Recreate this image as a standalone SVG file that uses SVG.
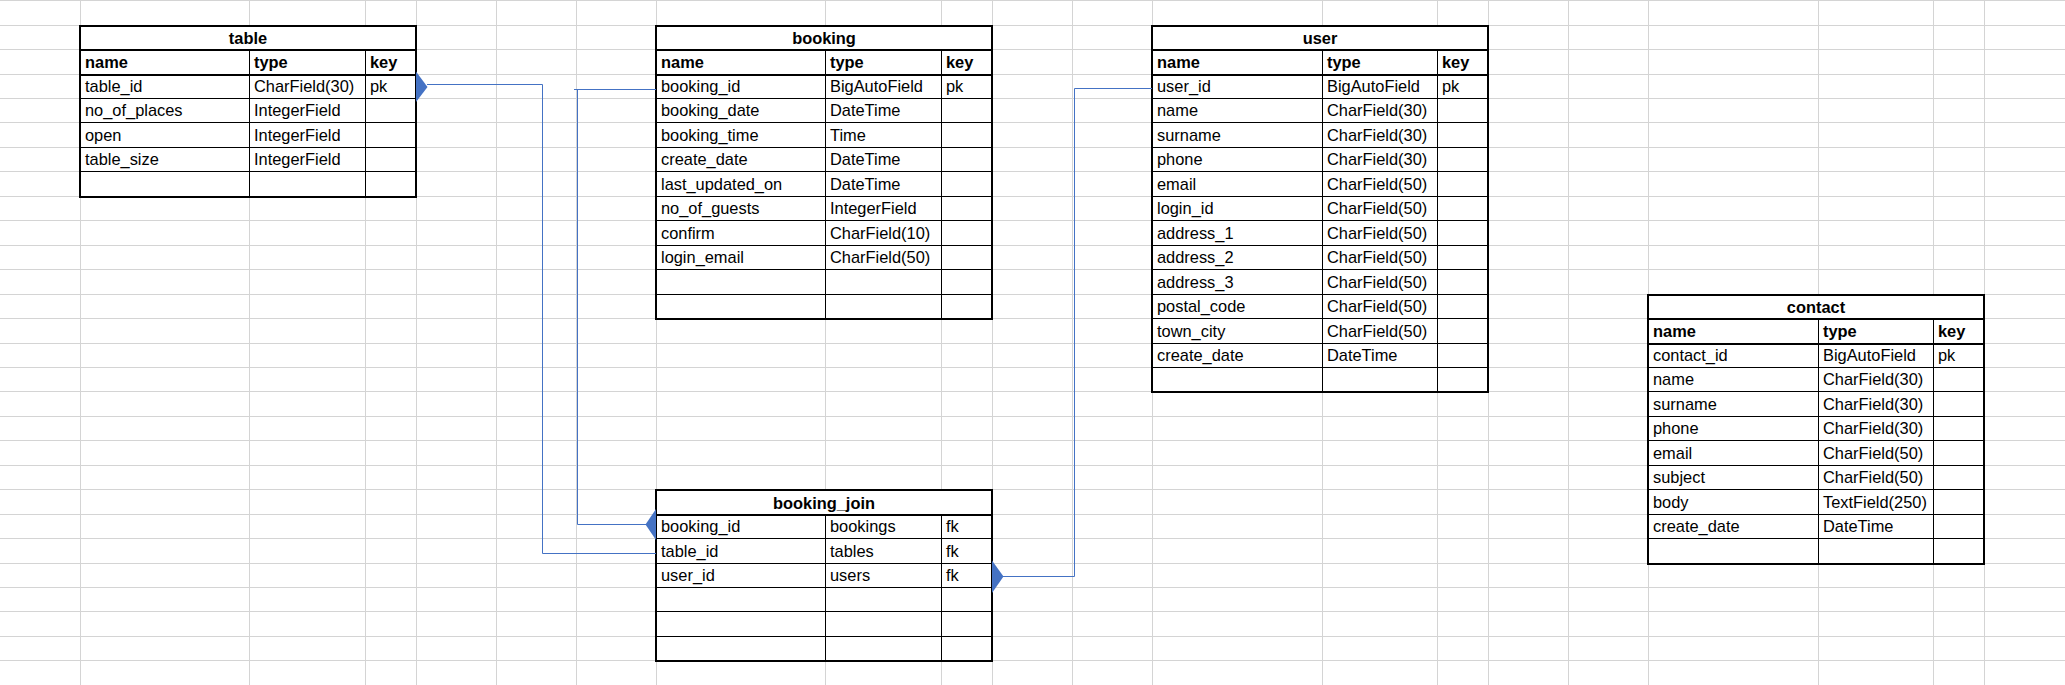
<svg xmlns="http://www.w3.org/2000/svg" width="2065" height="685" viewBox="0 0 2065 685">
<style>
.grid{stroke:#d4d4d4;stroke-width:1;fill:none}
.box{fill:#ffffff;stroke:#000000;stroke-width:2}
.thick{stroke:#000000;stroke-width:2;fill:none}
.thin{stroke:#000000;stroke-width:1;fill:none}
text{font-family:"Liberation Sans",Arial,sans-serif;font-size:16.4px;fill:#000000}
.t{font-weight:bold;text-anchor:middle}
.h{font-weight:bold}
.conn{stroke:#4472c4;stroke-width:1;fill:none}
.tri{fill:#4472c4;stroke:none}
</style>
<rect x="0" y="0" width="2065" height="685" fill="#ffffff"/>
<g id="grid">
<path class="grid" d="M80.5 0V685M249.5 0V685M365.5 0V685M416.5 0V685M496.5 0V685M576.5 0V685M656.5 0V685M825.5 0V685M941.5 0V685M992.5 0V685M1072.5 0V685M1152.5 0V685M1322.5 0V685M1437.5 0V685M1488.5 0V685M1568.5 0V685M1648.5 0V685M1818.5 0V685M1933.5 0V685M1984.5 0V685"/>
<path class="grid" d="M0 0.5H2065M0 25.5H2065M0 49.5H2065M0 74.5H2065M0 98.5H2065M0 122.5H2065M0 147.5H2065M0 171.5H2065M0 196.5H2065M0 220.5H2065M0 245.5H2065M0 269.5H2065M0 294.5H2065M0 318.5H2065M0 343.5H2065M0 367.5H2065M0 391.5H2065M0 416.5H2065M0 440.5H2065M0 465.5H2065M0 489.5H2065M0 514.5H2065M0 538.5H2065M0 563.5H2065M0 587.5H2065M0 611.5H2065M0 636.5H2065M0 660.5H2065"/>
</g>

<g id="table">
<rect class="box" x="80" y="26" width="336" height="171"/>
<path class="thick" d="M80 50H416M80 75H416"/>
<path class="thin" d="M80 98.5H416M80 122.5H416M80 147.5H416M80 171.5H416M249.5 50V197M365.5 50V197"/>
<text class="t" x="248" y="43.5">table</text>
<text class="h" x="85" y="68">name</text><text class="h" x="254" y="68">type</text><text class="h" x="370" y="68">key</text>
<text x="85" y="92">table_id</text><text x="254" y="92">CharField(30)</text><text x="370" y="92">pk</text>
<text x="85" y="116">no_of_places</text><text x="254" y="116">IntegerField</text>
<text x="85" y="141">open</text><text x="254" y="141">IntegerField</text>
<text x="85" y="165">table_size</text><text x="254" y="165">IntegerField</text>
</g>

<g id="booking">
<rect class="box" x="656" y="26" width="336" height="293"/>
<path class="thick" d="M656 50H992M656 75H992"/>
<path class="thin" d="M656 98.5H992M656 122.5H992M656 147.5H992M656 171.5H992M656 196.5H992M656 220.5H992M656 245.5H992M656 269.5H992M656 294.5H992M825.5 50V319M941.5 50V319"/>
<text class="t" x="824" y="43.5">booking</text>
<text class="h" x="661" y="68">name</text><text class="h" x="830" y="68">type</text><text class="h" x="946" y="68">key</text>
<text x="661" y="92">booking_id</text><text x="830" y="92">BigAutoField</text><text x="946" y="92">pk</text>
<text x="661" y="116">booking_date</text><text x="830" y="116">DateTime</text>
<text x="661" y="141">booking_time</text><text x="830" y="141">Time</text>
<text x="661" y="165">create_date</text><text x="830" y="165">DateTime</text>
<text x="661" y="190">last_updated_on</text><text x="830" y="190">DateTime</text>
<text x="661" y="214">no_of_guests</text><text x="830" y="214">IntegerField</text>
<text x="661" y="239">confirm</text><text x="830" y="239">CharField(10)</text>
<text x="661" y="263">login_email</text><text x="830" y="263">CharField(50)</text>
</g>

<g id="user">
<rect class="box" x="1152" y="26" width="336" height="366"/>
<path class="thick" d="M1152 50H1488M1152 75H1488"/>
<path class="thin" d="M1152 98.5H1488M1152 122.5H1488M1152 147.5H1488M1152 171.5H1488M1152 196.5H1488M1152 220.5H1488M1152 245.5H1488M1152 269.5H1488M1152 294.5H1488M1152 318.5H1488M1152 343.5H1488M1152 367.5H1488M1322.5 50V392M1437.5 50V392"/>
<text class="t" x="1320" y="43.5">user</text>
<text class="h" x="1157" y="68">name</text><text class="h" x="1327" y="68">type</text><text class="h" x="1442" y="68">key</text>
<text x="1157" y="92">user_id</text><text x="1327" y="92">BigAutoField</text><text x="1442" y="92">pk</text>
<text x="1157" y="116">name</text><text x="1327" y="116">CharField(30)</text>
<text x="1157" y="141">surname</text><text x="1327" y="141">CharField(30)</text>
<text x="1157" y="165">phone</text><text x="1327" y="165">CharField(30)</text>
<text x="1157" y="190">email</text><text x="1327" y="190">CharField(50)</text>
<text x="1157" y="214">login_id</text><text x="1327" y="214">CharField(50)</text>
<text x="1157" y="239">address_1</text><text x="1327" y="239">CharField(50)</text>
<text x="1157" y="263">address_2</text><text x="1327" y="263">CharField(50)</text>
<text x="1157" y="288">address_3</text><text x="1327" y="288">CharField(50)</text>
<text x="1157" y="312">postal_code</text><text x="1327" y="312">CharField(50)</text>
<text x="1157" y="337">town_city</text><text x="1327" y="337">CharField(50)</text>
<text x="1157" y="361">create_date</text><text x="1327" y="361">DateTime</text>
</g>

<g id="contact">
<rect class="box" x="1648" y="295" width="336" height="269"/>
<path class="thick" d="M1648 319H1984M1648 344H1984"/>
<path class="thin" d="M1648 367.5H1984M1648 391.5H1984M1648 416.5H1984M1648 440.5H1984M1648 465.5H1984M1648 489.5H1984M1648 514.5H1984M1648 538.5H1984M1818.5 319V564M1933.5 319V564"/>
<text class="t" x="1816" y="312.5">contact</text>
<text class="h" x="1653" y="337">name</text><text class="h" x="1823" y="337">type</text><text class="h" x="1938" y="337">key</text>
<text x="1653" y="361">contact_id</text><text x="1823" y="361">BigAutoField</text><text x="1938" y="361">pk</text>
<text x="1653" y="385">name</text><text x="1823" y="385">CharField(30)</text>
<text x="1653" y="410">surname</text><text x="1823" y="410">CharField(30)</text>
<text x="1653" y="434">phone</text><text x="1823" y="434">CharField(30)</text>
<text x="1653" y="459">email</text><text x="1823" y="459">CharField(50)</text>
<text x="1653" y="483">subject</text><text x="1823" y="483">CharField(50)</text>
<text x="1653" y="508">body</text><text x="1823" y="508">TextField(250)</text>
<text x="1653" y="532">create_date</text><text x="1823" y="532">DateTime</text>
</g>

<g id="booking_join">
<rect class="box" x="656" y="490" width="336" height="171"/>
<path class="thick" d="M656 515H992"/>
<path class="thin" d="M656 538.5H992M656 563.5H992M656 587.5H992M656 611.5H992M656 636.5H992M825.5 515V661M941.5 515V661"/>
<text class="t" x="824" y="508.5">booking_join</text>
<text x="661" y="532">booking_id</text><text x="830" y="532">bookings</text><text x="946" y="532">fk</text>
<text x="661" y="557">table_id</text><text x="830" y="557">tables</text><text x="946" y="557">fk</text>
<text x="661" y="581">user_id</text><text x="830" y="581">users</text><text x="946" y="581">fk</text>
</g>

<g id="connectors">
<path class="conn" d="M427 84.5H542.5V553.5H656"/>
<polygon class="tri" points="416,71.5 427.5,87 416,102"/>
<path class="conn" d="M656 89.5H574M577.5 89.5V524.5H647"/>
<polygon class="tri" points="656,509 645.5,524.5 656,540"/>
<path class="conn" d="M1003 576.5H1074.5V88.5H1152"/>
<polygon class="tri" points="992,560.5 1003.5,576.5 992,593"/>
</g>
</svg>
